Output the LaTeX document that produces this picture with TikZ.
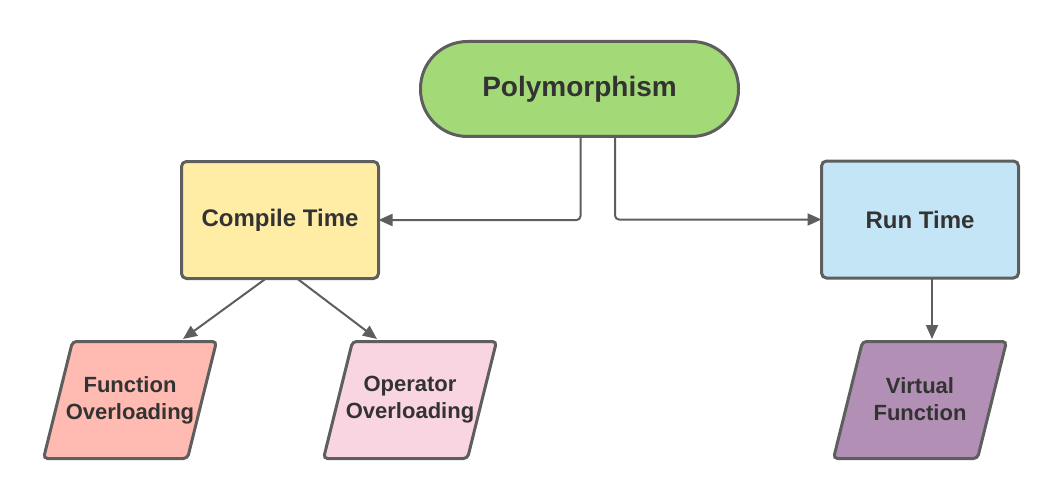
\documentclass[tikz,border=0pt]{standalone}
\usepackage{fontspec}
\setmainfont{Liberation Sans}
\usetikzlibrary{arrows.meta,calc}
\pgfdeclarelayer{background}
\pgfsetlayers{background,main}
\definecolor{bordc}{HTML}{5E5E5E}
\definecolor{textc}{HTML}{333333}
\definecolor{greenf}{HTML}{A3D977}
\definecolor{yellowf}{HTML}{FFEDA6}
\definecolor{bluef}{HTML}{C3E5F6}
\definecolor{salmonf}{HTML}{FFBBB1}
\definecolor{pinkf}{HTML}{F9D4E1}
\definecolor{purplef}{HTML}{B28FB4}
\tikzset{
  x=1pt, y=-1pt,
  basenode/.style={draw=bordc, line width=3pt, text=textc, inner sep=0pt, outer sep=0pt},
  stadium/.style={basenode, rectangle, rounded corners=47pt, minimum width=318pt, minimum height=95pt,
    font=\bfseries\fontsize{28}{32}\selectfont},
  timebox/.style={basenode, rectangle, rounded corners=5pt, minimum width=197pt, minimum height=117pt,
    font=\bfseries\fontsize{24}{28}\selectfont},
  para/.style={rectangle, text=textc, inner sep=0pt, outer sep=0pt, minimum width=173pt, minimum height=117pt,
    align=center, font=\bfseries\fontsize{22}{27}\selectfont},
  paraback/.style={draw=bordc, line width=3pt, rounded corners=4pt},
  conn/.style={draw=bordc, line width=2pt, -{Triangle[length=14pt,width=12pt]}},
}
\begin{document}
\begin{tikzpicture}
\useasboundingbox (0,0) rectangle (1060,500);
\node[stadium, fill=greenf] (poly) at (579.5,89) {Polymorphism};
\node[timebox, fill=yellowf] (compile) at (280,220) {Compile Time};
\node[timebox, fill=bluef] (run) at (920,219.5) {Run Time};
\node[para] (fo) at (130,400) {\raisebox{2pt}{Function}\\\raisebox{2pt}{Overloading}};
\node[para] (oo) at (410,400) {\raisebox{2pt}{Operator}\\\raisebox{2pt}{Overloading}};
\node[para] (vf) at (920,400) {\raisebox{2pt}{Virtual}\\\raisebox{2pt}{Function}};
\begin{pgfonlayer}{background}
\foreach \n/\c in {fo/salmonf, oo/pinkf, vf/purplef}
  \draw[paraback, fill=\c] ([xshift=29pt]\n.north west) -- (\n.north east)
     -- ([xshift=-29pt]\n.south east) -- (\n.south west) -- cycle;
\end{pgfonlayer}
\draw[conn, rounded corners=4pt] ([xshift=1pt]poly.south) |- (compile.east);
\draw[conn, rounded corners=4pt] ([xshift=35.5pt]poly.south) |- (run.west);
\draw[conn] ([xshift=-14pt]compile.south) -- ($(fo.center)+(53,-61)$);
\draw[conn] ([xshift=17pt]compile.south) -- ($(oo.center)+(-33,-61)$);
\draw[conn] ([xshift=12pt]run.south) -- ($(vf.center)+(12,-61)$);
\end{tikzpicture}
\end{document}
